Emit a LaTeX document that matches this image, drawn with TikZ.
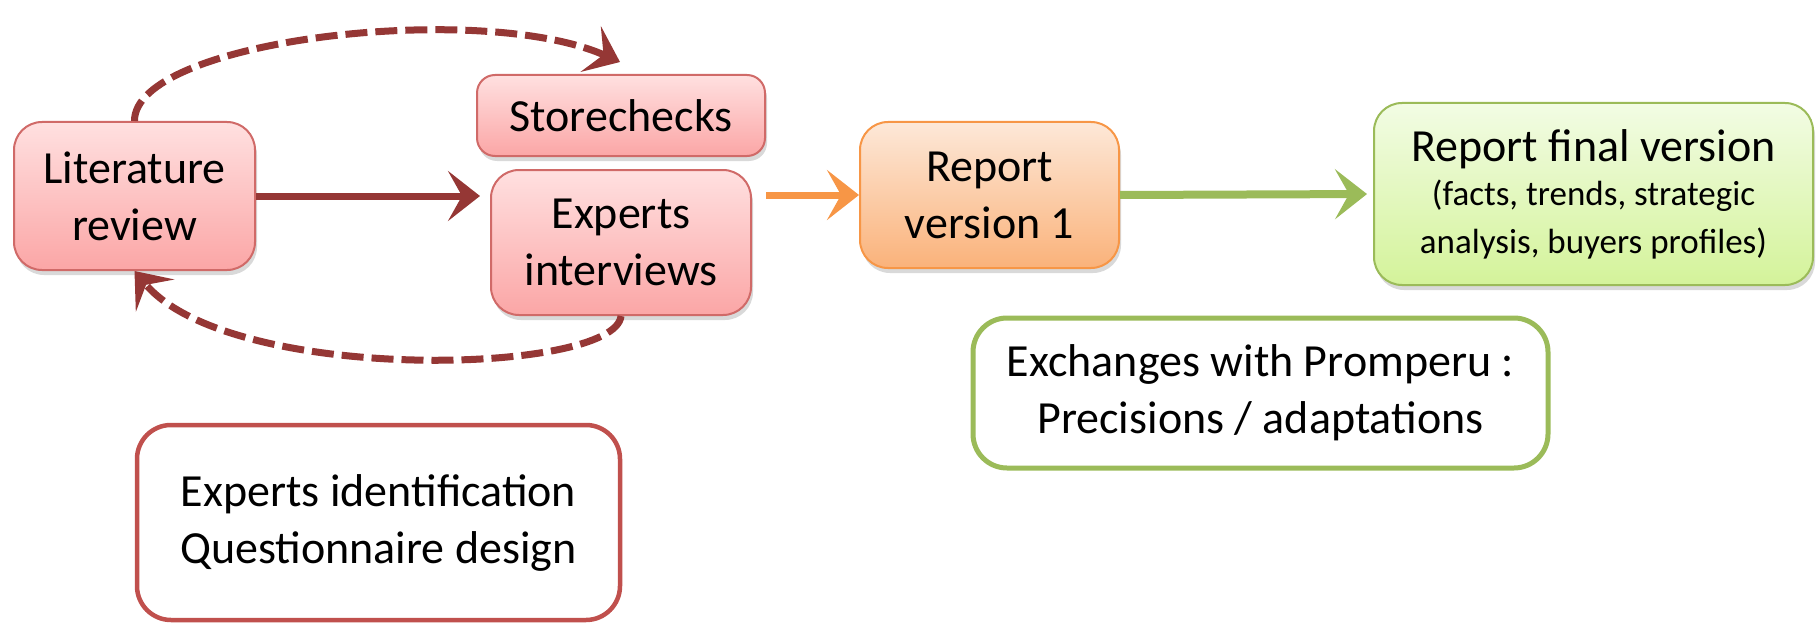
\documentclass[tikz,border=0pt]{standalone}
\usepackage{fontspec}
\setmainfont{Carlito}
\usetikzlibrary{arrows.meta,shadows}
\definecolor{dred}{HTML}{953735}
\definecolor{pinkline}{HTML}{D06A68}
\definecolor{pinktop}{HTML}{FFE0E0}
\definecolor{pinkbot}{HTML}{FBA6A6}
\definecolor{orline}{HTML}{F79646}
\definecolor{ortop}{HTML}{FDE8D8}
\definecolor{orbot}{HTML}{FAB27A}
\definecolor{grline}{HTML}{9BBB59}
\definecolor{grtop}{HTML}{F2FCE4}
\definecolor{grbot}{HTML}{D4F39A}
\definecolor{redline}{HTML}{C0504D}
\newcommand{\smallfs}{\fontsize{35}{42}\selectfont}
\tikzset{
  gbox/.style={draw, line width=2pt, rounded corners=28pt, align=center,
    font=\fontsize{46}{57}\selectfont,
    drop shadow={shadow xshift=2pt, shadow yshift=-5pt, opacity=0.25, fill=black!60}},
  pinkbox/.style={gbox, draw=pinkline, top color=pinktop, bottom color=pinkbot},
  orbox/.style={gbox, draw=orline, top color=ortop, bottom color=orbot},
  grbox/.style={gbox, draw=grline, top color=grtop, bottom color=grbot},
  wbox/.style={draw, fill=white, rounded corners=34pt, align=center,
    font=\fontsize{46}{57}\selectfont},
  tipshape/.style={-{Stealth[length=32pt, width=50pt, inset=14pt]}},
  conn/.style={tipshape, line width=7pt},
  dconn/.style={tipshape, line width=7pt, dash pattern=on 22pt off 8pt}
}
\begin{document}
\begin{tikzpicture}[x=1pt,y=-1pt]
\useasboundingbox (0,0) rectangle (1817,623);
\node[pinkbox, minimum width=241pt, minimum height=148pt] (lit) at (134.5,196) {Literature\\review};
\node[pinkbox, rounded corners=18pt, minimum width=288pt, minimum height=81pt] (sto) at (621,115.5) {Storechecks};
\node[pinkbox, minimum width=260pt, minimum height=145pt] (exp) at (621,242.5) {Experts\\interviews};
\node[orbox, minimum width=259pt, minimum height=146pt] (rv1) at (989.5,195) {Report\\version 1};
\node[grbox, minimum width=439pt, minimum height=182pt] (fin) at (1593.5,194)
  {Report final version\\[-13pt] \smallfs (facts, trends, strategic\\[-9pt] \smallfs analysis, buyers profiles)};
\node[wbox, draw=grline, line width=5pt, minimum width=575pt, minimum height=150pt] (exc) at (1260.5,393)
  {Exchanges with Promperu :\\Precisions / adaptations};
\node[wbox, draw=redline, line width=4.5pt, minimum width=483pt, minimum height=195pt] (idn) at (378.5,522.5)
  {Experts identification\\Questionnaire design};

\coordinate (toptip) at (620,62);
\draw[conn, dred] (lit.east) -- (lit.east -| exp.west) [shorten >=10pt];
\draw[conn, orline, shorten <=14pt] (rv1.west -| exp.east) -- (rv1.west);
\draw[conn, grline, line width=8pt, shorten >=6pt] (rv1.east) -- (fin.west);
\draw[dconn, dred] (lit.north) .. controls (134,40) and (480,0) .. (toptip);
\draw[dconn, dred] (exp.south) .. controls (615,375) and (230,385) .. (lit.south);
\end{tikzpicture}
\end{document}
